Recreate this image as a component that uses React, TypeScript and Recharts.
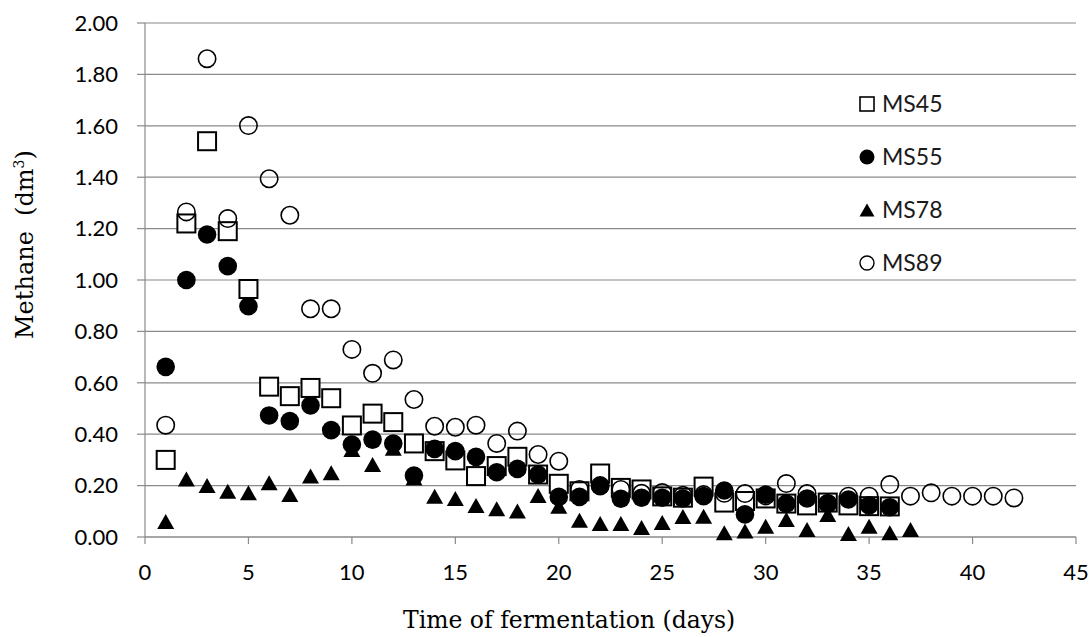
import { ScatterChart, Scatter, XAxis, YAxis, CartesianGrid, Legend } from "recharts";

const days = [1, 2, 3, 4, 5, 6, 7, 8, 9, 10, 11, 12, 13, 14, 15, 16, 17, 18, 19, 20, 21, 22, 23, 24, 25, 26, 27, 28, 29, 30, 31, 32, 33, 34, 35, 36, 37, 38, 39, 40, 41, 42];

const ms45 = [0.3, 1.22, 1.54, 1.19, 0.965, 0.585, 0.548, 0.58, 0.54, 0.434, 0.48, 0.447, 0.364, 0.334, 0.298, 0.237, 0.276, 0.312, 0.243, 0.207, 0.178, 0.247, 0.191, 0.185, 0.158, 0.153, 0.196, 0.134, 0.14, 0.15, 0.13, 0.123, 0.134, 0.123, 0.12, 0.119];
const ms55 = [0.662, 1.0, 1.177, 1.054, 0.898, 0.473, 0.451, 0.512, 0.416, 0.36, 0.379, 0.364, 0.239, 0.343, 0.334, 0.312, 0.252, 0.265, 0.243, 0.156, 0.156, 0.198, 0.149, 0.153, 0.153, 0.15, 0.159, 0.181, 0.088, 0.165, 0.13, 0.15, 0.13, 0.146, 0.123, 0.116];
const ms78 = [0.06, 0.226, 0.2, 0.178, 0.172, 0.211, 0.165, 0.237, 0.25, 0.34, 0.282, 0.345, 0.23, 0.159, 0.15, 0.123, 0.11, 0.101, 0.161, 0.12, 0.065, 0.053, 0.053, 0.037, 0.056, 0.08, 0.081, 0.017, 0.023, 0.042, 0.068, 0.029, 0.088, 0.014, 0.042, 0.017, 0.029];
const ms89 = [0.435, 1.265, 1.861, 1.239, 1.601, 1.394, 1.252, 0.888, 0.888, 0.73, 0.637, 0.689, 0.535, 0.431, 0.427, 0.435, 0.364, 0.412, 0.321, 0.295, 0.185, 0.2, 0.185, 0.17, 0.173, 0.162, 0.165, 0.17, 0.169, 0.16, 0.208, 0.169, 0.13, 0.159, 0.159, 0.204, 0.159, 0.172, 0.159, 0.159, 0.159, 0.152];

const xTicks = [0, 5, 10, 15, 20, 25, 30, 35, 40, 45];
const yTicks = [0, 0.2, 0.4, 0.6, 0.8, 1.0, 1.2, 1.4, 1.6, 1.8, 2.0];
const seriesNames = ["MS45", "MS55", "MS78", "MS89"];

const toPoints = (vals: number[]) => vals.map((y, i) => ({ x: days[i], y }));

const grey = "#8a8a8a";
const tickFont = { fontSize: 22, fill: "#000", fontFamily: "Lato" };
const titleFont = "DejaVu Serif";

// marker shapes, drawn around the scaled point
const Square = (p: any) => (
  <rect x={p.cx - 9} y={p.cy - 9} width={18} height={18} fill="#fff" stroke="#000" strokeWidth={2} />
);
const Dot = (p: any) => <circle cx={p.cx} cy={p.cy} r={9.3} fill="#000" />;
const Tri = (p: any) => (
  <polygon points={`${p.cx},${p.cy - 7.5} ${p.cx + 8.5},${p.cy + 7.5} ${p.cx - 8.5},${p.cy + 7.5}`} fill="#000" />
);
const Ring = (p: any) => <circle cx={p.cx} cy={p.cy} r={8.7} fill="none" stroke="#000" strokeWidth={1.6} />;

const legendIcons = [
  <rect key="a" x={1} y={1} width={14} height={14} fill="#fff" stroke="#000" strokeWidth={1.6} />,
  <circle key="b" cx={8} cy={8} r={7.5} fill="#000" />,
  <polygon key="c" points="8,1.5 15.5,14.5 0.5,14.5" fill="#000" />,
  <circle key="d" cx={8} cy={8} r={7} fill="none" stroke="#000" strokeWidth={1.4} />,
];

const LegendBox = () => (
  <div>
    {seriesNames.map((n, i) => (
      <div key={n} style={{ height: 53, display: "flex", alignItems: "center" }}>
        <svg width={16} height={16} style={{ marginRight: 7 }}>{legendIcons[i]}</svg>
        <span style={{ fontFamily: "Lato", fontSize: 23, color: "#1a1a1a", lineHeight: 1 }}>{n}</span>
      </div>
    ))}
  </div>
);

export default function App() {
  return (
    <div style={{ position: "absolute", left: 0, top: 0, width: 1092, height: 637, background: "#fff" }}>
      <ScatterChart width={1092} height={637} margin={{ top: 23, right: 16, bottom: 0, left: 0 }}>
        <CartesianGrid vertical={false} stroke={grey} strokeWidth={1.2} />
        <XAxis
          type="number"
          dataKey="x"
          domain={[0, 45]}
          ticks={xTicks}
          height={100}
          stroke={grey}
          strokeWidth={1.2}
          tickSize={7}
          tickMargin={20}
          tick={tickFont}
          label={() => (
            <text x={403} y={628} textAnchor="start" fontFamily={titleFont} fontSize={23.5} fill="#000">
              Time of fermentation (days)
            </text>
          )}
        />
        <YAxis
          type="number"
          dataKey="y"
          domain={[0, 2]}
          ticks={yTicks}
          width={145}
          stroke={grey}
          strokeWidth={1.2}
          tickSize={8}
          tickMargin={19}
          tick={tickFont}
          tickFormatter={(v: number) => v.toFixed(2)}
          label={() => (
            <text transform="translate(33,339) rotate(-90)" textAnchor="start" fontFamily={titleFont} fontSize={24} fill="#000">
              {"Methane\u00a0 (dm"}<tspan fontSize={14} dy={-9}>3</tspan><tspan dy={9}>)</tspan>
            </text>
          )}
        />
        <Legend
          layout="vertical"
          align="center"
          verticalAlign="middle"
          content={() => <LegendBox />}
          wrapperStyle={{ left: 859, top: 77, width: 120 }}
        />
        <Scatter name="MS45" data={toPoints(ms45)} shape={Square} isAnimationActive={false} />
        <Scatter name="MS55" data={toPoints(ms55)} shape={Dot} isAnimationActive={false} />
        <Scatter name="MS78" data={toPoints(ms78)} shape={Tri} isAnimationActive={false} />
        <Scatter name="MS89" data={toPoints(ms89)} shape={Ring} isAnimationActive={false} />
      </ScatterChart>
    </div>
  );
}
